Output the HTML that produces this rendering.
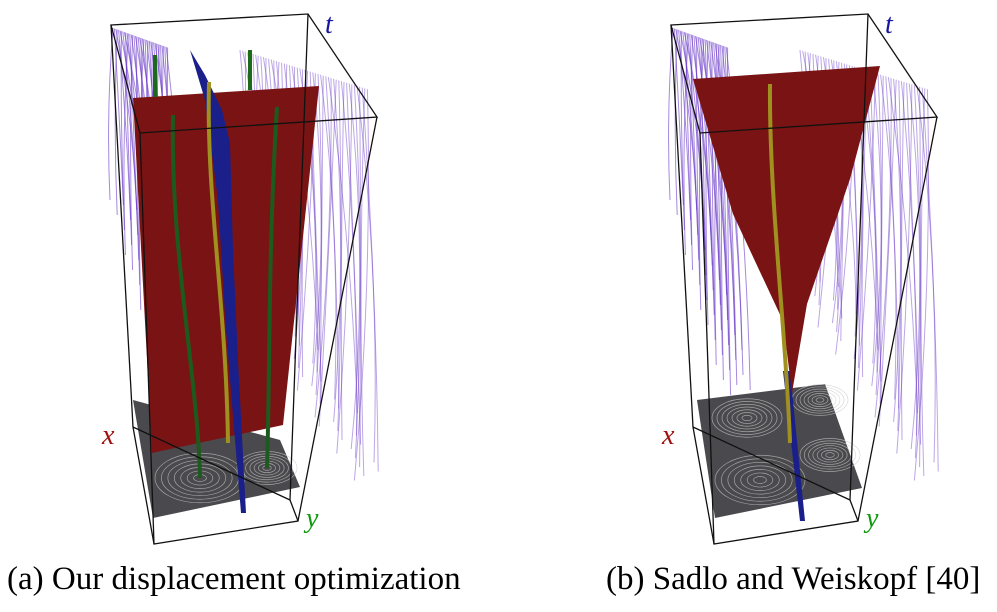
<!DOCTYPE html>
<html><head><meta charset="utf-8"><style>
body{margin:0;background:#fff;width:997px;height:612px;overflow:hidden}
svg{position:absolute;left:0;top:0}
.cap{position:absolute;top:561px;font-family:"Liberation Serif",serif;font-size:33px;color:#000;white-space:nowrap}
</style></head><body>
<svg id="s" width="997" height="612">
<g id="pa">
<g id="la"></g>
<polygon points="133,400 280,440 300,487 153,518" fill="#4a4a4e"/>
<g id="fa" fill="none" stroke="#ccc" stroke-width="0.7" stroke-opacity="0.7"></g>
<polygon points="133,98 319,86 283,425 152,453" fill="#7a1414"/>
<polygon points="190,50 205,75 222,110 230,143 233,250 238,360 246,513 241,513 226,330 218,200 205,100" fill="#1a1f8a"/>
<path d="M209,82 C206,200 226,300 228,443" stroke="#a09020" stroke-width="4" fill="none"/>
<path d="M173,115 C170,250 198,380 200,478" stroke="#1d5a1d" stroke-width="4" fill="none"/>
<path d="M277,107 C268,250 270,380 267,468" stroke="#1d5a1d" stroke-width="4" fill="none"/>
<path d="M155,55 L155,97" stroke="#1d6a1d" stroke-width="4"/>
<path d="M250,50 L250,90" stroke="#1d6a1d" stroke-width="4"/>
<g stroke="#111" stroke-width="1.3" fill="none">
<polygon points="111,25 308,14 377,117 140,133"/>
<polyline points="111,25 133,427 154,544 298,521 377,117"/>
<polyline points="140,133 154,544"/>
<polyline points="308,14 290,500 298,521"/>
<polyline points="133,427 290,500"/>
</g>
<text x="325" y="33" font-family="Liberation Serif,serif" font-style="italic" font-size="28" fill="#1515a0">t</text>
<text x="102" y="444" font-family="Liberation Serif,serif" font-style="italic" font-size="28" fill="#a01010">x</text>
<text x="306" y="527" font-family="Liberation Serif,serif" font-style="italic" font-size="28" fill="#119911">y</text>
</g>
<g id="pb">
<g id="lb"></g>
<polygon points="697,400 825,384 862,488 715,518" fill="#4a4a4e"/>
<g id="fb" fill="none" stroke="#ccc" stroke-width="0.7" stroke-opacity="0.7"></g>
<polygon points="783,371 790,371 805,521 800,521" fill="#1a1f8a"/>
<polygon points="693,79 880,66 850,179 807,304 792,393 783,321 733,214" fill="#7a1414"/>
<path d="M770,84 C769,200 786,330 790,443" stroke="#a09020" stroke-width="4" fill="none"/>
<g stroke="#111" stroke-width="1.3" fill="none">
<polygon points="671,25 868,14 937,117 700,133"/>
<polyline points="671,25 693,427 714,544 858,521 937,117"/>
<polyline points="700,133 714,544"/>
<polyline points="868,14 850,500 858,521"/>
<polyline points="693,427 850,500"/>
</g>
<text x="885" y="33" font-family="Liberation Serif,serif" font-style="italic" font-size="28" fill="#1515a0">t</text>
<text x="662" y="444" font-family="Liberation Serif,serif" font-style="italic" font-size="28" fill="#a01010">x</text>
<text x="866" y="527" font-family="Liberation Serif,serif" font-style="italic" font-size="28" fill="#119911">y</text>
</g>
</svg>
<div class="cap" style="left:7px">(a) Our displacement optimization</div>
<div class="cap" style="left:606px">(b) Sadlo and Weiskopf [40]</div>
<script>
var ns="http://www.w3.org/2000/svg";
function lines(gid,ox){
  var g=document.getElementById(gid);
  for(var i=0;i<90;i++){
    var x0,y0,y1,dx;
    if(i<40){x0=ox+113+i*1.4;y0=28+i*0.5;y1=200+i*5;dx=12;}
    else{var k=i-40;x0=ox+240+k*2.6;y0=50+k*0.8;y1=260+k*4.5;dx=-10+(k%7)*4;}
    var p=document.createElementNS(ns,"path");
    var bend=((i*37)%11-5)*3;
    p.setAttribute("d","M"+x0+","+y0+" Q"+(x0+bend+8)+","+((y0+y1)/2)+" "+(x0+dx+bend)+","+y1);
    p.setAttribute("stroke","#6a3ac8");p.setAttribute("stroke-opacity",i<40?"0.6":"0.45");
    p.setAttribute("stroke-width","1");p.setAttribute("fill","none");
    
    
    g.appendChild(p);
  }
}
function vort(gid,cx,cy,r){
  var g=document.getElementById(gid);
  for(var j=1;j<8;j++){
    var e=document.createElementNS(ns,"ellipse");
    e.setAttribute("cx",cx);e.setAttribute("cy",cy);
    e.setAttribute("rx",r*j/7);e.setAttribute("ry",r*j/7*0.55);
    
    
    g.appendChild(e);
  }
}
lines("la",0);lines("lb",560);
vort("fa",200,478,45);vort("fa",267,468,30);
vort("fb",747,418,35);vort("fb",760,480,45);vort("fb",820,400,28);vort("fb",830,455,30);
</script>
</body></html>
